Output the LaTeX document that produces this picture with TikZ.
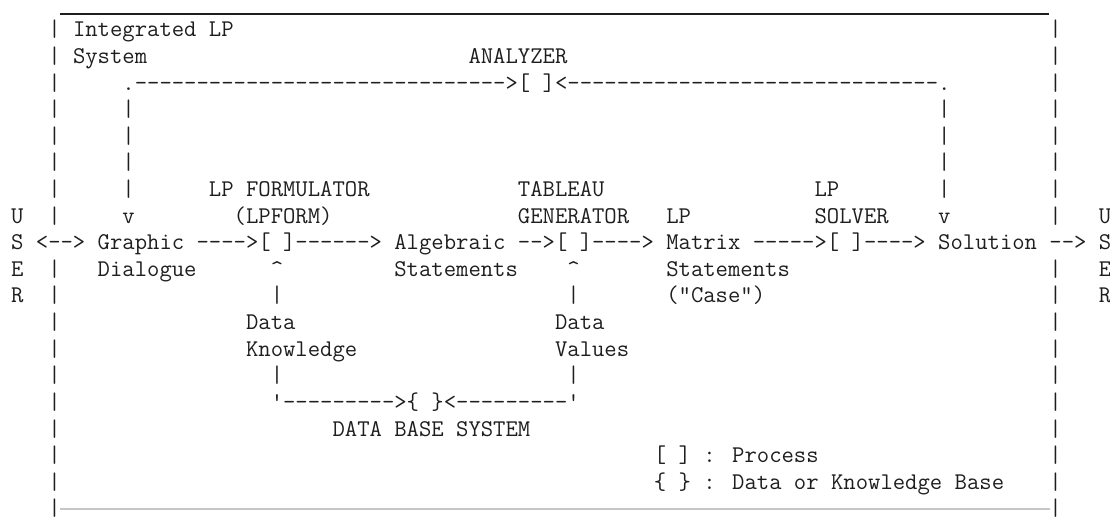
\documentclass[tikz,border=0pt]{standalone}
\usepackage{fontspec}
\definecolor{ink}{HTML}{1E1E1E}
\newcommand\twfont{\ttfamily\addfontfeatures{FakeBold=0.5}}
\newlength\cwa
\settowidth\cwa{\twfont\fontsize{23.54pt}{26pt}\selectfont M}
\pgfmathsetmacro\ttfs{23.54*12.36/\cwa}
\tikzset{tt/.style={font=\twfont\fontsize{\ttfs pt}{26pt}\selectfont, anchor=base west, inner sep=0pt, text=ink}}
\newcommand\cell[4]{\node[tt] (#1) at ({11+12.36*(#2)},{37+26.6*(#3)}) {#4};}
\begin{document}
\begin{tikzpicture}[x=1pt,y=-1pt]
\useasboundingbox (0,0) rectangle (1110,518);
% frame
\draw[ink, line width=1.4pt] (60,14) -- (1049,14);
\draw[gray!45, line width=1.2pt] (60,509) -- (1050,509);
\foreach \r in {0,...,7,9,10,...,18} { \cell{lb\r}{3}{\r}{|} \cell{rb\r}{84}{\r}{|} }
% titles
\cell{title1}{5}{0}{Integrated LP}
\cell{title2}{5}{1}{System}
\cell{analyzer}{37}{1}{ANALYZER}
% analyzer loop
\cell{loop}{9}{2}{.------------------------------>[ ]<------------------------------.}
\foreach \r in {3,4,5,6} { \cell{fl\r}{9}{\r}{|} \cell{fr\r}{75}{\r}{|} }
% labels above main line
\cell{lpf}{16}{6}{LP FORMULATOR}
\cell{tab}{41}{6}{TABLEAU}
\cell{lps}{65}{6}{LP}
\cell{uL}{0}{7}{U}
\cell{vL}{9}{7}{v}
\cell{lpform}{18}{7}{(LPFORM)}
\cell{gen}{41}{7}{GENERATOR}
\cell{lpm}{53}{7}{LP}
\cell{solver}{65}{7}{SOLVER}
\cell{vR}{75}{7}{v}
\cell{uR}{88}{7}{U}
% main line
\cell{main}{0}{8}{S <--> Graphic ---->[ ]------> Algebraic -->[ ]----> Matrix ----->[ ]----> Solution --> S}
% below main line
\cell{eL}{0}{9}{E}
\cell{dial}{7}{9}{Dialogue}
\cell{up1}{21}{9}{\textasciicircum}
\cell{st1}{31}{9}{Statements}
\cell{up2}{45}{9}{\textasciicircum}
\cell{st2}{53}{9}{Statements}
\cell{eR}{88}{9}{E}
\cell{rL}{0}{10}{R}
\cell{p1a}{21}{10}{|}
\cell{p2a}{45}{10}{|}
\cell{case}{53}{10}{("Case")}
\cell{rR}{88}{10}{R}
\cell{d1}{19}{11}{Data}
\cell{d2}{44}{11}{Data}
\cell{know}{19}{12}{Knowledge}
\cell{vals}{44}{12}{Values}
\cell{p1b}{21}{13}{|}
\cell{p2b}{45}{13}{|}
\cell{dbloop}{21}{14}{'--------->\{ \}<---------'}
\cell{dbs}{26}{15}{DATA BASE SYSTEM}
% legend
\cell{leg1}{52}{16}{[ ] : Process}
\cell{leg2}{52}{17}{\{ \} : Data or Knowledge Base}
\end{tikzpicture}
\end{document}
